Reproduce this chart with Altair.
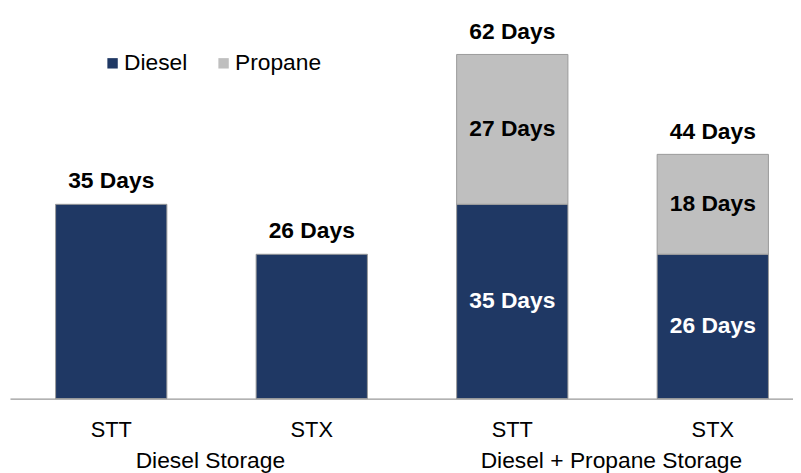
import altair as alt
import pandas as pd

groups = ["Diesel Storage", "Diesel Storage", "Diesel + Propane Storage", "Diesel + Propane Storage"]
sites = ["STT", "STX", "STT", "STX"]
diesel_days = [35, 26, 35, 26]
propane_days = [0, 0, 27, 18]
totals = [35, 26, 62, 44]
fuels = ["Diesel", "Propane"]
colors = ["#1F3864", "#BFBFBF"]

keys = [g + "|" + s for g, s in zip(groups, sites)]

rows = []
for k, d, p in zip(keys, diesel_days, propane_days):
    if d > 0:
        rows.append({"key": k, "fuel": "Diesel", "ord": 0, "value": d})
    if p > 0:
        rows.append({"key": k, "fuel": "Propane", "ord": 1, "value": p})
long_df = pd.DataFrame(rows)
tot_df = pd.DataFrame({"key": keys, "total": totals})
grp_df = pd.DataFrame({"key": [keys[0], keys[2]], "group": [groups[0], groups[2]]})

FONT = "Liberation Sans"

xenc = alt.X("key:N", sort=keys, title=None,
             scale=alt.Scale(paddingInner=0.445, paddingOuter=0.175, align=0.65),
             axis=alt.Axis(labelExpr="split(datum.label, '|')[1]", labelAngle=0,
                           labelFontSize=22, labelFont=FONT, labelColor="#000000",
                           labelPadding=21, ticks=False, domainColor="#999999",
                           domainWidth=1.2, grid=False))
yscale = alt.Scale(domain=[0, 70])

bars = alt.Chart(long_df).mark_bar(stroke="#9a9a9a", strokeWidth=1).encode(
    x=xenc,
    y=alt.Y("value:Q", stack="zero", scale=yscale, axis=None),
    color=alt.Color("fuel:N", scale=alt.Scale(domain=fuels, range=colors),
                    legend=alt.Legend(title=None, orient="none", legendX=92, legendY=42,
                                      direction="horizontal", symbolType="square",
                                      symbolSize=110, symbolStrokeWidth=0,
                                      labelFontSize=23, labelFont=FONT, labelColor="#000000",
                                      labelOffset=0, columnPadding=25)),
    order=alt.Order("ord:Q"),
)

inside = alt.Chart(long_df).transform_filter(
    "datum.key != 'Diesel Storage|STT' && datum.key != 'Diesel Storage|STX'"
).transform_stack(
    stack="value", as_=["y0", "y1"], groupby=["key"], sort=[alt.SortField("ord")]
).transform_calculate(
    mid="(datum.y0 + datum.y1) / 2", lab="datum.value + ' Days'"
).mark_text(
    fontSize=23, fontWeight="bold", font=FONT, baseline="middle"
).encode(
    x=alt.X("key:N", sort=keys),
    y=alt.Y("mid:Q", scale=yscale),
    text="lab:N",
    color=alt.Color("fuel:N", scale=alt.Scale(domain=fuels, range=["#FFFFFF", "#000000"]), legend=None),
)

top = alt.Chart(tot_df).transform_calculate(lab="datum.total + ' Days'").mark_text(
    fontSize=23, fontWeight="bold", font=FONT, baseline="middle", dy=-23, color="#000000"
).encode(
    x=alt.X("key:N", sort=keys),
    y=alt.Y("total:Q", scale=yscale),
    text="lab:N",
)

grp = alt.Chart(grp_df).mark_text(
    fontSize=23, font=FONT, baseline="middle", dx=100, color="#000000"
).encode(
    x=alt.X("key:N", sort=keys),
    y=alt.value(455),
    text="group:N",
)

chart = alt.layer(bars, inside, top, grp).resolve_scale(color="independent").properties(
    width=790, height=392,
    autosize=alt.AutoSizeParams(type="none"),
    padding={"left": 2, "top": 0, "right": 0, "bottom": 73},
).configure_view(stroke=None)

chart.save("out.html", embed_options={"renderer": "svg", "actions": False})
